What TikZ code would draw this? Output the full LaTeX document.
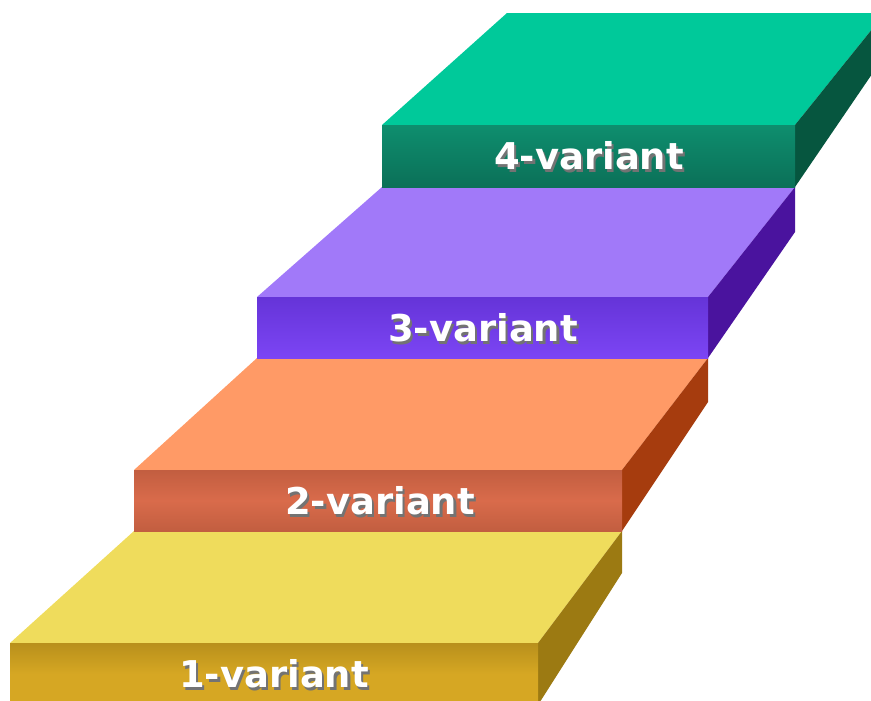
\documentclass[tikz,border=0pt]{standalone}
\usepackage{fontspec}
\setsansfont{DejaVu Sans}
\usetikzlibrary{positioning}

\definecolor{greentop}{HTML}{00C99A}
\definecolor{greenfrontA}{HTML}{0E8E6E}
\definecolor{greenfrontB}{HTML}{0B7058}
\definecolor{greenside}{HTML}{06563F}
\definecolor{purpletop}{HTML}{A179F9}
\definecolor{purplefrontA}{HTML}{6534D8}
\definecolor{purplefrontB}{HTML}{7C45F4}
\definecolor{purpleside}{HTML}{4A139E}
\definecolor{orangetop}{HTML}{FF9A66}
\definecolor{orangefrontA}{HTML}{C25E40}
\definecolor{orangefrontB}{HTML}{D96B4B}
\definecolor{orangeside}{HTML}{A63C0E}
\definecolor{yellowtop}{HTML}{EFDC5C}
\definecolor{yellowfrontA}{HTML}{B8901C}
\definecolor{yellowfrontB}{HTML}{D6A723}
\definecolor{yellowside}{HTML}{9C7A12}

% white label with a soft drop shadow
\newcommand{\steptext}[1]{\makebox[0pt][l]{\kern1.3pt\raisebox{-1.6pt}{\textcolor{black!55}{#1}}}#1}

\begin{document}
\begin{tikzpicture}[
    x=0.02cm, y=-0.02cm,
    steplabel/.style={font=\sffamily\bfseries\fontsize{21}{25}\selectfont, text=white, inner sep=0pt}
]
    \useasboundingbox (0,0) rectangle (871,700);
    \clip (0,0) rectangle (871,700);

    % Step 1
    \fill[yellowtop] (10,643) -- (538,643) -- (622,531) -- (134,531) -- cycle;
    \fill[yellowside] (538,643) -- (622,531) -- (622,573) -- (538,705) -- cycle;
    \shade[top color=yellowfrontA, bottom color=yellowfrontB, middle color=yellowfrontB] (10,643) rectangle (538,705);
    \node[steplabel] (l1) at (274,675) {\steptext{1-variant}};

    % Step 2
    \fill[orangetop] (134,470) -- (622,470) -- (708,358) -- (257,358) -- cycle;
    \fill[orangeside] (622,470) -- (708,358) -- (708,402) -- (622,531) -- cycle;
    \shade[top color=orangefrontA, bottom color=orangefrontA, middle color=orangefrontB] (134,470) rectangle (622,531);
    \node[steplabel] (l2) at (380,502) {\steptext{2-variant}};

    % Step 3
    \fill[purpletop] (257,297) -- (708,297) -- (795,187) -- (382,187) -- cycle;
    \fill[purpleside] (708,297) -- (795,187) -- (795,232) -- (708,358) -- cycle;
    \shade[top color=purplefrontA, bottom color=purplefrontB] (257,297) rectangle (708,358);
    \node[steplabel] (l3) at (483,329) {\steptext{3-variant}};

    % Step 4
    \fill[greentop] (382,125) -- (795,125) -- (885,13) -- (507,13) -- cycle;
    \fill[greenside] (795,125) -- (885,13) -- (885,55) -- (795,187) -- cycle;
    \shade[top color=greenfrontA, bottom color=greenfrontB] (382,125) rectangle (795,187);
    \node[steplabel] (l4) at (589,157) {\steptext{4-variant}};
\end{tikzpicture}
\end{document}
